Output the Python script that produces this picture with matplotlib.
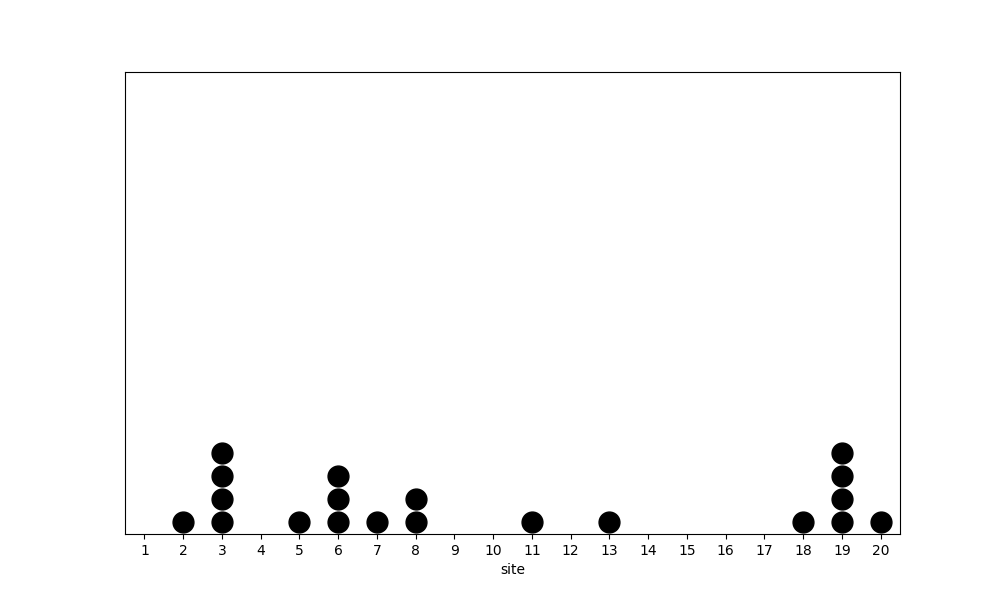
import matplotlib
matplotlib.use("Agg")
import matplotlib.pyplot as plt

# site values and how many times each one shows up
sites = [2, 3, 5, 6, 7, 8, 11, 13, 18, 19, 20]
counts = [1, 4, 1, 3, 1, 2, 1, 1, 1, 4, 1]
tick_sites = list(range(1, 21))

fig, ax = plt.subplots(figsize=(10, 6), dpi=100)

for s, c in zip(sites, counts):
    for k in range(c):
        ax.plot(s, k + 0.5, 'o', color='black', markersize=15)

ax.set_xlim(0.5, 20.5)
ax.set_ylim(0, sum(counts))
ax.set_xticks(tick_sites)
ax.set_yticks([])
ax.set_xlabel("site")

fig.savefig("out.png")
